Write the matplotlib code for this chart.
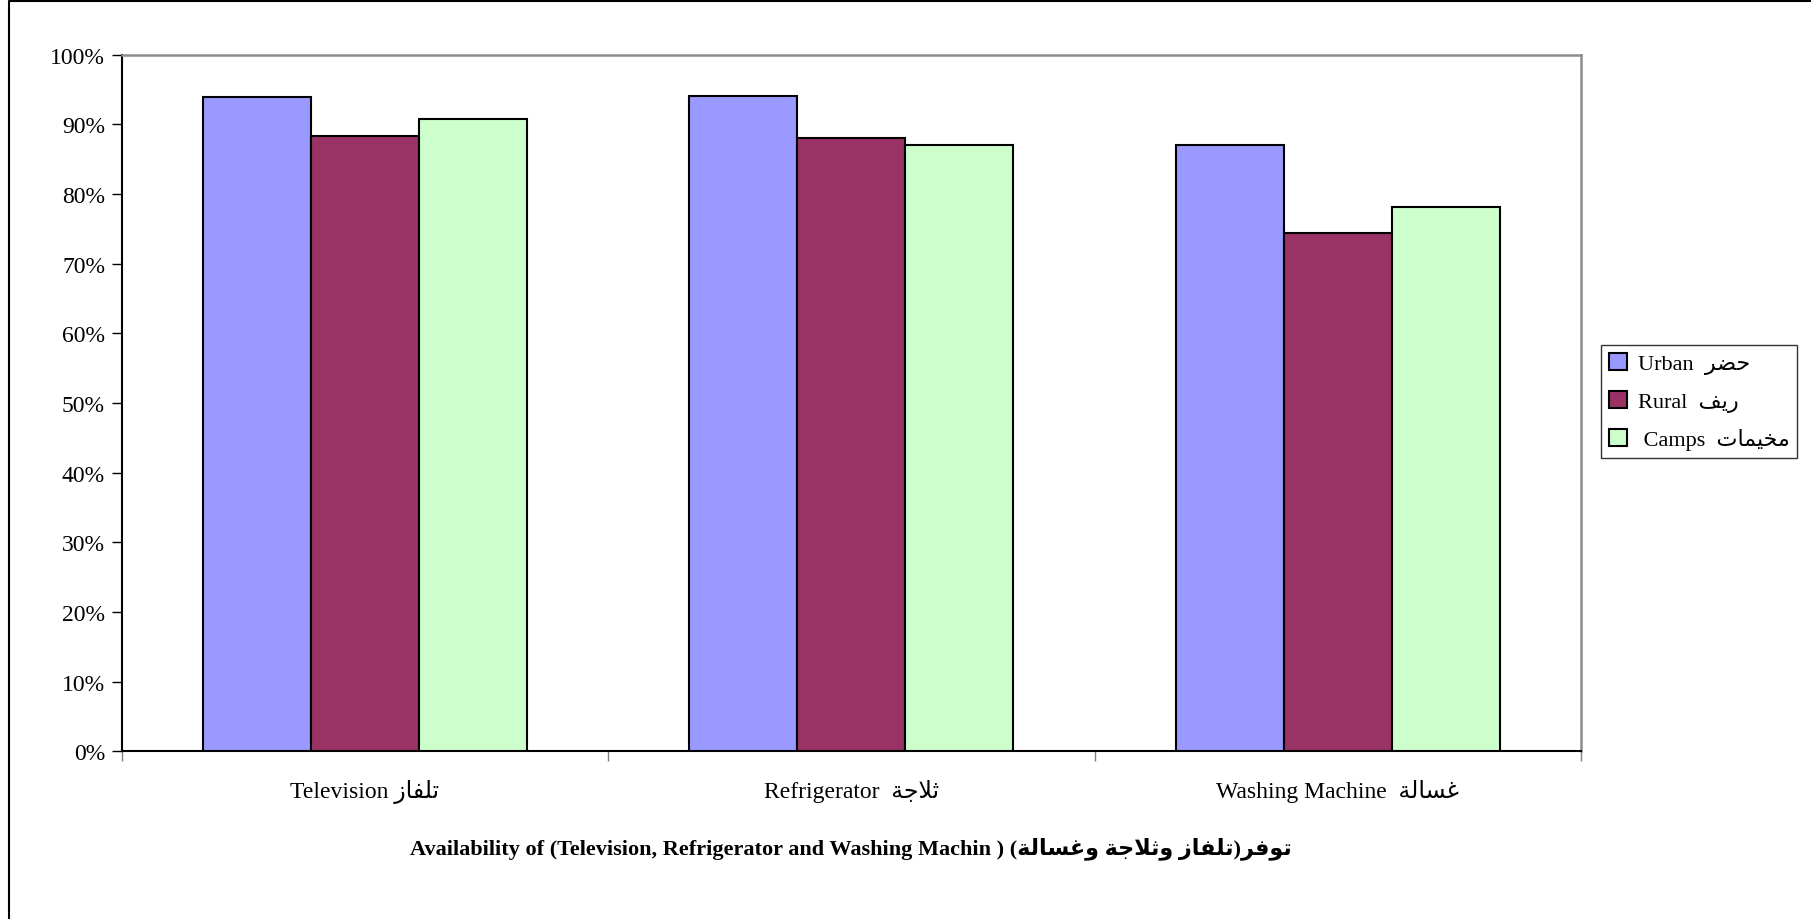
import matplotlib
matplotlib.use("Agg")
import matplotlib.pyplot as plt
from matplotlib.lines import Line2D
from matplotlib.ticker import FuncFormatter
import numpy as np

# Arabic text is written in presentation forms, already in visual (left-to-right) order,
# because matplotlib does no Arabic shaping or bidi.
AR_TV = "\uFEAF\uFE8E\uFED4\uFEE0\uFE97"             # تلفاز
AR_FRIDGE = "\uFE94\uFE9F\uFEFC\uFE9B"              # ثلاجة
AR_WASHER = "\uFE94\uFEDF\uFE8E\uFEB4\uFECF"        # غسالة
AR_URBAN = "\uFEAE\uFEC0\uFEA3"                     # حضر
AR_RURAL = "\uFED2\uFEF3\uFEAD"                     # ريف
AR_CAMPS = "\uFE95\uFE8E\uFEE4\uFEF4\uFEA8\uFEE3"   # مخيمات
AR_AND_WASHER = "\uFE94\uFEDF\uFE8E\uFEB4\uFECF\uFEED"  # وغسالة
AR_AND_FRIDGE = "\uFE94\uFE9F\uFEFC\uFE9B\uFEED"        # وثلاجة
AR_AVAIL = "\uFEAE\uFED3\uFEEE\uFE97"                   # توفر

categories = ["Television " + AR_TV,
              "Refrigerator  " + AR_FRIDGE,
              "Washing Machine  " + AR_WASHER]
series_names = ["Urban  " + AR_URBAN, "Rural  " + AR_RURAL, " Camps  " + AR_CAMPS]
urban = [93.9, 94.0, 87.0]
rural = [88.4, 88.1, 74.4]
camps = [90.8, 87.1, 78.2]
colors = ["#9999FF", "#993366", "#CCFFCC"]
title = ("Availability of (Television, Refrigerator and Washing Machin ) ("
         + AR_AND_WASHER + " " + AR_AND_FRIDGE + " " + AR_TV + ")" + AR_AVAIL)

FONT = ["Liberation Serif", "DejaVu Sans"]
plt.rcParams["font.family"] = FONT

W, H = 1811, 920
fig = plt.figure(figsize=(W / 100, H / 100), dpi=100)
ax = fig.add_axes([121.7 / W, 1 - 752.3 / H, (1581 - 121.7) / W, (752.3 - 55.7) / H])

x = np.arange(len(categories))
bw = 1 / 4.5
for i, (vals, name, c) in enumerate(zip([urban, rural, camps], series_names, colors)):
    ax.bar(x + (i - 1) * bw, vals, bw, color=c, edgecolor="black", linewidth=1.5,
           label=name, zorder=3)

ax.set_xlim(-0.5, len(categories) - 0.5)
ax.set_ylim(0, 100)
ax.set_yticks(np.arange(0, 101, 10))
ax.yaxis.set_major_formatter(FuncFormatter(lambda v, p: f"{int(v)}%"))
ax.tick_params(axis="y", labelsize=17, length=7, width=1, direction="out", pad=5)

ax.set_xticks(x)
ax.set_xticklabels(categories, fontsize=17)
ax.tick_params(axis="x", which="major", length=0, pad=20)
ax.set_xticks(np.arange(-0.5, len(categories)), minor=True)
ax.tick_params(axis="x", which="minor", length=7, width=1, color="#808080")

for s in ["left", "bottom"]:
    ax.spines[s].set_color("black")
    ax.spines[s].set_linewidth(1.5)
for s in ["top", "right"]:
    ax.spines[s].set_color("#8c8c8c")
    ax.spines[s].set_linewidth(1.8)

leg = ax.legend(loc="center left", bbox_to_anchor=(1601 / W, 1 - 402.5 / H),
                bbox_transform=fig.transFigure, fontsize=16, frameon=True, fancybox=False,
                edgecolor="black", handlelength=0.8, handleheight=0.8, handletextpad=0.5,
                labelspacing=0.75, borderpad=0.35, borderaxespad=0)
leg.get_frame().set_linewidth(1.0)
for h in leg.legend_handles:
    h.set_linewidth(1.5)

fig.text(851 / W, 1 - 849 / H, title, ha="center", va="center", fontsize=16,
         fontweight="bold")

# outer chart border (top and left edges visible)
fig.add_artist(Line2D([9 / W, 9 / W, 1], [0, 1 - 2 / H, 1 - 2 / H],
                      transform=fig.transFigure, color="black", linewidth=1.5))

fig.savefig("out.png", dpi=100)
